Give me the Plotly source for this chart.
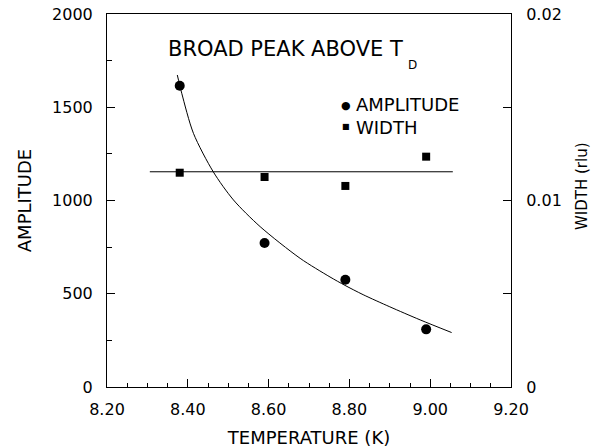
import plotly.graph_objects as go

# ---- data ----
temperature = [8.38, 8.59, 8.79, 8.99]
amplitude = [1615, 772, 575, 309]
width_rlu = [0.01149, 0.01126, 0.01078, 0.01235]

# amplitude fit curve
fit_T = [8.374, 8.385, 8.414, 8.463, 8.513, 8.579, 8.678, 8.752, 8.789, 8.834, 8.900, 8.975, 9.053]
fit_amp = [1673, 1575, 1360, 1154, 1003, 860, 690, 590, 545, 495, 430, 360, 292]

# width constant fit line
width_line_T = [8.306, 9.056]
width_line_val = [0.01154, 0.01154]

x_ticks = [8.2, 8.4, 8.6, 8.8, 9.0, 9.2]
x_ticklabels = ["8.20", "8.40", "8.60", "8.80", "9.00", "9.20"]
y_ticks = [0, 500, 1000, 1500, 2000]
y2_ticks = [0, 0.01, 0.02]
y2_ticklabels = ["0", "0.01", "0.02"]

FONT = "DejaVu Sans"
BLACK = "#000000"

fig = go.Figure()

fig.add_trace(go.Scatter(
    x=fit_T, y=fit_amp, mode="lines", line=dict(color=BLACK, width=1, shape="spline", smoothing=0.8),
    showlegend=False, hoverinfo="skip"))
fig.add_trace(go.Scatter(
    x=width_line_T, y=width_line_val, yaxis="y2", mode="lines",
    line=dict(color=BLACK, width=1), showlegend=False, hoverinfo="skip"))
fig.add_trace(go.Scatter(
    x=temperature, y=amplitude, mode="markers", name="AMPLITUDE",
    marker=dict(symbol="circle", size=10, color=BLACK), showlegend=False))
fig.add_trace(go.Scatter(
    x=temperature, y=width_rlu, yaxis="y2", mode="markers", name="WIDTH",
    marker=dict(symbol="square", size=8, color=BLACK), showlegend=False))

L, R, T, B = 107, 84, 14, 61
W, H = 595, 448
pw, ph = W - L - R, H - T - B


def px(xp):
    return (xp - L) / pw


def py(yp):
    return (H - B - yp) / ph


axis_common = dict(
    showgrid=False, zeroline=False, showline=True, linecolor=BLACK, linewidth=1,
    ticks="inside", tickcolor=BLACK, tickwidth=1, automargin=False,
    tickfont=dict(family=FONT, size=16, color=BLACK),
)

fig.update_layout(
    width=W, height=H,
    margin=dict(l=L, r=R, t=T, b=B, pad=0, autoexpand=False),
    paper_bgcolor="white", plot_bgcolor="white",
    font=dict(family=FONT, color=BLACK),
    xaxis=dict(
        **axis_common, range=[8.2, 9.2], tickvals=x_ticks, ticktext=x_ticklabels,
        ticklen=8, mirror=True, ticklabelstandoff=8,
        minor=dict(dtick=0.05, tick0=8.2, ticks="inside", ticklen=4, tickcolor=BLACK, tickwidth=1),
        title=dict(text="TEMPERATURE (K)", font=dict(family=FONT, size=18, color=BLACK), standoff=21),
    ),
    yaxis=dict(
        **axis_common, range=[0, 2000], tickvals=y_ticks, ticklen=8, ticklabelstandoff=10,
        minor=dict(dtick=250, tick0=0, ticks="inside", ticklen=5, tickcolor=BLACK, tickwidth=1),
        title=dict(text="AMPLITUDE", font=dict(family=FONT, size=18, color=BLACK), standoff=15),
    ),
    yaxis2=dict(
        **axis_common, range=[0, 0.02], tickvals=y2_ticks, ticktext=y2_ticklabels,
        overlaying="y", side="right", ticklen=8, ticklabelstandoff=11,
        minor=dict(dtick=0.005, tick0=0, ticks="inside", ticklen=8, tickcolor=BLACK, tickwidth=1),
    ),
    annotations=[
        dict(text="BROAD PEAK ABOVE T", xref="paper", yref="paper", x=px(405), y=py(49),
             xanchor="right", yanchor="middle", showarrow=False,
             font=dict(family=FONT, size=21, color=BLACK)),
        dict(text="D", xref="paper", yref="paper", x=px(412), y=py(65),
             xanchor="center", yanchor="middle", showarrow=False,
             font=dict(family=FONT, size=12, color=BLACK)),
        dict(text="●", xref="paper", yref="paper", x=px(346), y=py(105),
             xanchor="center", yanchor="middle", showarrow=False,
             font=dict(family=FONT, size=11, color=BLACK)),
        dict(text="■", xref="paper", yref="paper", x=px(346), y=py(127),
             xanchor="center", yanchor="middle", showarrow=False,
             font=dict(family=FONT, size=8, color=BLACK)),
        dict(text="AMPLITUDE<br>WIDTH", xref="paper", yref="paper", x=px(354), y=py(116),
             xanchor="left", yanchor="middle", align="left", showarrow=False,
             font=dict(family=FONT, size=18, color=BLACK)),
        dict(text="WIDTH (rlu)", xref="paper", yref="paper", x=px(582), y=py(186),
             xanchor="center", yanchor="middle", textangle=-90, showarrow=False,
             font=dict(family=FONT, size=15, color=BLACK)),
    ],
)

fig.write_html("out.html")
